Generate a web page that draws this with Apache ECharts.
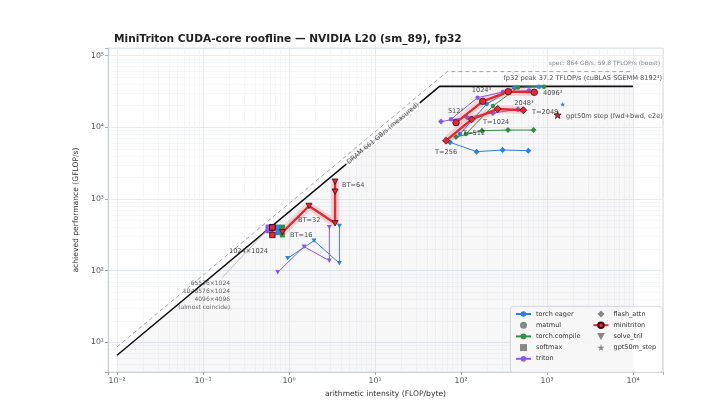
<!DOCTYPE html>
<html>
<head>
<meta charset="utf-8">
<script src="https://cdn.jsdelivr.net/npm/echarts@6/dist/echarts.min.js"></script>
<style>
  html, body { margin: 0; padding: 0; background: #fff; }
  #roofline { width: 720px; height: 415px; }
</style>
</head>
<body>
<div id="roofline"></div>
<script>
// roofline parameters (GB/s, GFLOP/s)
var dramMeasured = 661, peakMeasured = 37200;
var dramSpec = 864, peakSpec = 59800;
var aiStart = 0.01, aiEnd = 1e4;

// torch eager
var mmEagerAI = [97.3, 199, 417, 807],    mmEagerPerf = [8070, 21100, 35700, 36800];
var faEagerAI = [74.5, 152, 305, 606],    faEagerPerf = [6180, 4570, 4820, 4720];
var smEagerAI = [0.74, 0.74, 0.74, 0.74], smEagerPerf = [398, 405, 401, 339];
var stEagerAI = [0.966, 1.953, 3.85, 3.85], stEagerPerf = [149, 262, 127, 420];
var gptEagerAI = [1523], gptEagerPerf = [20900];

// torch.compile
var mmCompileAI = [114, 235, 460, 923],   mmCompilePerf = [8070, 19800, 35900, 36800];
var faCompileAI = [87.5, 175, 352, 697],  faCompilePerf = [7320, 8960, 9150, 9150];
var smCompileAI = [0.836, 0.836, 0.836, 0.836], smCompilePerf = [400, 404, 402, 315];

// triton
var mmTritonAI = [76.5, 156, 308, 618],   mmTritonPerf = [12900, 25900, 31000, 32500];
var faTritonAI = [58.5, 117.5, 235, 460], faTritonPerf = [12000, 13800, 15800, 17800];
var smTritonAI = [0.574, 0.574, 0.574, 0.574], smTritonPerf = [401, 406, 399, 360];
var stTritonAI = [0.739, 1.494, 2.942, 2.942], stTritonPerf = [95, 216, 138, 403];

// minitriton
var mmMiniAI = [87.5, 179, 355, 711],     mmMiniPerf = [11600, 23000, 31400, 30800];
var faMiniAI = [67, 133, 267, 531],       faMiniPerf = [6500, 12900, 18000, 17300];
var smMiniAI = [0.64, 0.64, 0.64, 0.64],  smMiniPerf = [400, 404, 402, 315];
var stMiniAI = [0.836, 1.708, 3.43, 3.43, 3.43], stMiniPerf = [343, 798, 458, 1264, 1742];
var gptMiniAI = [1331], gptMiniPerf = [14850];

// annotations
var annoText = ['512³', '1024³', '2048³', '4096³', 'T=256', 'T=512', 'T=1024', 'T=2048',
  'gpt50m step (fwd+bwd, e2e)', 'BT=64', 'BT=32', 'BT=16', '1024×1024',
  '65536×1024\n1048576×1024\n4096×4096\n(almost coincide)',
  'fp32 peak 37.2 TFLOP/s (cuBLAS SGEMM 8192³)', 'spec: 864 GB/s, 59.8 TFLOP/s (boost)'];
var annoAI   = [86.3, 173, 540, 898, 67, 105.5, 180, 669, 1663, 4.13, 1.27, 1.027, 0.57, 0.206, 21800, 20600];
var annoPerf = [16500, 33100, 21800, 30100, 4420, 8330, 11850, 16000, 14060, 1567, 498, 308, 188, 45.8, 48800, 78900];
var annoAlign = ['center', 'center', 'center', 'left', 'center', 'left', 'left', 'left',
  'left', 'left', 'left', 'left', 'right', 'right', 'right', 'right'];
var noteLineAI = [0.166, 0.54], noteLinePerf = [79, 358];
var dramLabelAI = 12.4;

var decadesX = [-3, -2, -1, 0, 1, 2, 3, 4];
var decadesY = [0, 1, 2, 3, 4, 5];
var minorMult = [2, 3, 4, 5, 6, 7, 8, 9];

var C = { eager: '#2f80dc', compile: '#2e8f45', triton: '#8a5ce6', mini: '#e02a36' };
var SYM = {
  matmul: 'circle',
  softmax: 'path://M0,0L10,0L10,10L0,10Z',
  flash_attn: 'path://M5,0L10,5L5,10L0,5Z',
  solve_tril: 'path://M0,0L10,0L5,9Z',
  gpt50m_step: 'path://M5,0L6.18,3.82L10,3.82L6.9,6.18L8.09,10L5,7.64L1.91,10L3.1,6.18L0,3.82L3.82,3.82Z'
};
var FONT = 'DejaVu Sans';

function pts(ai, perf) { return ai.map(function (a, i) { return [a, perf[i]]; }); }

function sup(n) {
  var m = { '-': '⁻', '0': '⁰', '1': '¹', '2': '²', '3': '³', '4': '⁴', '5': '⁵', '6': '⁶', '7': '⁷', '8': '⁸', '9': '⁹' };
  return String(n).split('').map(function (c) { return m[c]; }).join('');
}
function powLabel(v) {
  var e = Math.log10(v);
  if (Math.abs(e - Math.round(e)) > 1e-6) return '';
  return '10' + sup(Math.round(e));
}

function libLine(lib, color, kernel, size, ai, perf) {
  return {
    name: lib, type: 'line', data: pts(ai, perf), symbol: SYM[kernel], symbolSize: size, symbolKeepAspect: true,
    lineStyle: { color: color, width: 1 }, itemStyle: { color: color }, z: 3, silent: true
  };
}
function miniLine(kernel, size, ai, perf) {
  return {
    name: 'minitriton', type: 'line', data: pts(ai, perf), symbol: SYM[kernel], symbolSize: size, symbolKeepAspect: true,
    lineStyle: { color: C.mini, width: 2.4 },
    itemStyle: { color: C.mini, borderColor: '#3d0a0e', borderWidth: 0.8 }, z: 5, silent: true
  };
}
function miniHalo(ai, perf) {
  return {
    name: 'minitriton', type: 'line', data: pts(ai, perf), symbol: 'none',
    lineStyle: { color: 'rgba(224,42,54,0.17)', width: 8 }, z: 4, silent: true
  };
}
function kernelKey(name) {
  return { name: name, type: 'scatter', data: [], symbol: SYM[name], symbolKeepAspect: true, itemStyle: { color: '#6b6b6b' } };
}

var minorX = [], minorY = [];
decadesX.forEach(function (k) { minorMult.forEach(function (m) { minorX.push({ xAxis: m * Math.pow(10, k) }); }); });
decadesY.forEach(function (k) { minorMult.forEach(function (m) { minorY.push({ yAxis: m * Math.pow(10, k) }); }); });
minorX = minorX.filter(function (d) { return d.xAxis > 0.00785 && d.xAxis < 22340; });
minorY = minorY.filter(function (d) { return d.yAxis > 3.86 && d.yAxis < 127600; });

var annoData = annoText.map(function (t, i) {
  var small = i === 13 || i === 15;
  return {
    name: t, value: [annoAI[i], annoPerf[i]],
    label: { align: annoAlign[i], fontSize: small ? 6 : 6.6, color: i === 15 ? '#666' : (i === 13 ? '#444' : '#222'),
      lineHeight: 8 }
  };
});
annoData.push({
  name: 'DRAM 661 GB/s (measured)', value: [dramLabelAI, dramMeasured * dramLabelAI],
  label: { rotate: 40, fontSize: 6.6, color: '#222', backgroundColor: '#fff', padding: [0, 2] }
});

var chart = echarts.init(document.getElementById('roofline'));
chart.setOption({
  animation: false,
  title: {
    text: 'MiniTriton CUDA-core roofline — NVIDIA L20 (sm_89), fp32',
    left: 109, top: 29,
    textStyle: { fontFamily: FONT, fontSize: 10.6, fontWeight: 'bold', color: '#222' }
  },
  textStyle: { fontFamily: FONT },
  grid: { left: 108, right: 57, top: 48, bottom: 43, show: true, borderColor: '#d3d8e0', borderWidth: 0.8 },
  xAxis: {
    type: 'log', logBase: 10, min: 0.00785, max: 22340,
    name: 'arithmetic intensity (FLOP/byte)', nameLocation: 'middle', nameGap: 15,
    nameTextStyle: { fontFamily: FONT, fontSize: 7.6, color: '#333' },
    axisLine: { show: true, onZero: false, lineStyle: { color: '#c8cdd5', width: 0.8 } },
    axisTick: { show: true, length: 3, lineStyle: { color: '#999', width: 0.8 } },
    axisLabel: { fontSize: 7.8, color: '#555', margin: 5, formatter: powLabel },
    splitLine: { show: true, lineStyle: { color: '#dfe5ee', width: 0.8 } }
  },
  yAxis: {
    type: 'log', logBase: 10, min: 3.86, max: 127600,
    name: 'achieved performance (GFLOP/s)', nameLocation: 'middle', nameGap: 22,
    nameTextStyle: { fontFamily: FONT, fontSize: 7.6, color: '#333' },
    axisLine: { show: true, onZero: false, lineStyle: { color: '#c8cdd5', width: 0.8 } },
    axisTick: { show: true, length: 3, lineStyle: { color: '#999', width: 0.8 } },
    axisLabel: { fontSize: 7.8, color: '#555', margin: 4, formatter: powLabel },
    splitLine: { show: true, lineStyle: { color: '#dfe5ee', width: 0.8 } }
  },
  legend: [{
    orient: 'vertical', left: 515, top: 310, itemWidth: 15, itemHeight: 7, itemGap: 3.2, padding: 0,
    symbolKeepAspect: true,
    textStyle: { fontFamily: FONT, fontSize: 6.5, color: '#333', lineHeight: 8 },
    data: ['torch eager', 'matmul', 'torch.compile', 'softmax', 'triton']
  }, {
    orient: 'vertical', left: 592.5, top: 310, itemWidth: 15, itemHeight: 7, itemGap: 3.2, padding: 0,
    symbolKeepAspect: true,
    textStyle: { fontFamily: FONT, fontSize: 6.5, color: '#333', lineHeight: 8 },
    data: ['flash_attn', 'minitriton', 'solve_tril', 'gpt50m_step']
  }],
  graphic: [{
    type: 'rect', left: 510, top: 306, z: 1,
    shape: { width: 152, height: 66, r: 3 },
    style: { fill: 'rgba(255,255,255,0.9)', stroke: '#cfd3d9', lineWidth: 0.8 }
  }],
  series: [
    {
      name: 'roof', type: 'line', symbol: 'none', silent: true, z: 1,
      data: [[aiStart, dramMeasured * aiStart], [peakMeasured / dramMeasured, peakMeasured], [aiEnd, peakMeasured]],
      lineStyle: { color: '#111', width: 1.6 },
      areaStyle: { color: 'rgba(0,0,0,0.045)', origin: 'start' },
      markLine: {
        silent: true, symbol: 'none', label: { show: false }, z: 0,
        lineStyle: { color: '#f0f2f6', width: 0.6, type: 'solid' },
        data: minorX.concat(minorY)
      }
    },
    {
      name: 'spec', type: 'line', symbol: 'none', silent: true, z: 1,
      data: [[aiStart, dramSpec * aiStart], [peakSpec / dramSpec, peakSpec], [aiEnd, peakSpec]],
      lineStyle: { color: '#9a9a9a', width: 0.9, type: [4, 3] }
    },
    {
      name: 'note', type: 'line', symbol: 'none', silent: true, z: 1,
      data: pts(noteLineAI, noteLinePerf),
      lineStyle: { color: '#a8a8a8', width: 0.7 }
    },
    kernelKey('matmul'), kernelKey('softmax'), kernelKey('flash_attn'), kernelKey('solve_tril'), kernelKey('gpt50m_step'),

    libLine('torch eager', C.eager, 'matmul', 4.5, mmEagerAI, mmEagerPerf),
    libLine('torch eager', C.eager, 'flash_attn', 6, faEagerAI, faEagerPerf),
    libLine('torch eager', C.eager, 'softmax', 5, smEagerAI, smEagerPerf),
    libLine('torch eager', C.eager, 'solve_tril', 5, stEagerAI, stEagerPerf),
    libLine('torch eager', C.eager, 'gpt50m_step', 5, gptEagerAI, gptEagerPerf),

    libLine('torch.compile', C.compile, 'matmul', 4.5, mmCompileAI, mmCompilePerf),
    libLine('torch.compile', C.compile, 'flash_attn', 6, faCompileAI, faCompilePerf),
    libLine('torch.compile', C.compile, 'softmax', 5, smCompileAI, smCompilePerf),

    libLine('triton', C.triton, 'matmul', 4.5, mmTritonAI, mmTritonPerf),
    libLine('triton', C.triton, 'flash_attn', 6, faTritonAI, faTritonPerf),
    libLine('triton', C.triton, 'softmax', 5, smTritonAI, smTritonPerf),
    libLine('triton', C.triton, 'solve_tril', 5, stTritonAI, stTritonPerf),

    miniLine('matmul', 6.5, mmMiniAI, mmMiniPerf),
    miniLine('flash_attn', 7, faMiniAI, faMiniPerf),
    miniLine('softmax', 5.5, smMiniAI, smMiniPerf),
    miniLine('solve_tril', 6, stMiniAI, stMiniPerf),
    miniLine('gpt50m_step', 7, gptMiniAI, gptMiniPerf),
    miniHalo(mmMiniAI, mmMiniPerf),
    miniHalo(faMiniAI, faMiniPerf),
    miniHalo(stMiniAI, stMiniPerf),

    {
      name: 'annotations', type: 'scatter', symbolSize: 0, silent: true, z: 10,
      label: { show: true, position: 'inside', formatter: '{b}', fontFamily: FONT, verticalAlign: 'middle' },
      data: annoData
    }
  ]
});
</script>
</body>
</html>
